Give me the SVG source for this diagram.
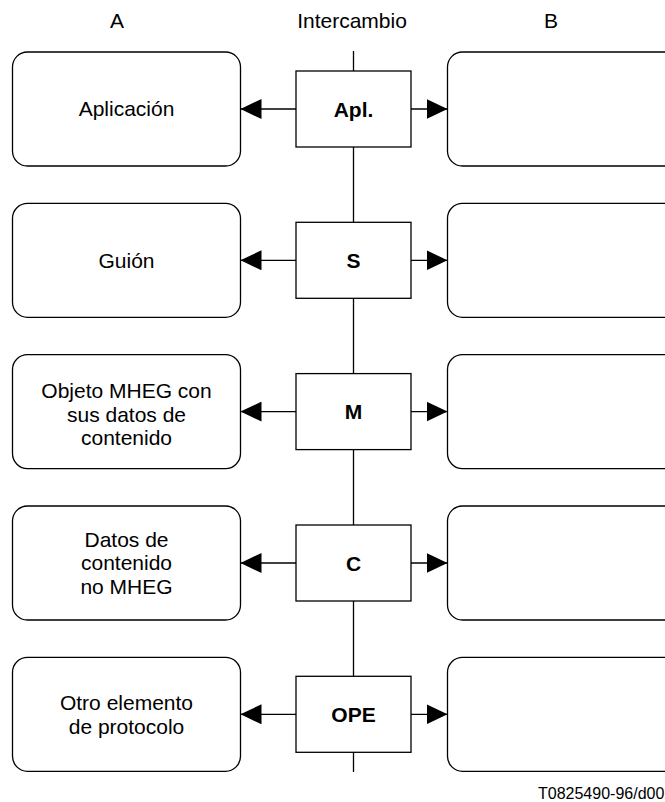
<svg xmlns="http://www.w3.org/2000/svg" width="665" height="802" viewBox="0 0 665 802">
  <style>
    .box { fill: #ffffff; stroke: #000000; stroke-width: 1.3; }
    .wire { fill: none; stroke: #000000; stroke-width: 1.3; }
    .lbl { font-family: "Liberation Sans", Arial, sans-serif; font-size: 21px; fill: #000000; text-anchor: middle; }
    .bold { font-weight: bold; }
    .foot { font-family: "Liberation Sans", Arial, sans-serif; font-size: 16px; fill: #000000; }
  </style>
  <defs>
    <marker id="head" viewBox="0 0 21 20" refX="21" refY="10" markerWidth="21" markerHeight="20" markerUnits="userSpaceOnUse" orient="auto">
      <path d="M0,0 L21,10 L0,20 Z" fill="#000000"/>
    </marker>
  </defs>

  <rect width="665" height="802" fill="#ffffff"/>

  <!-- column headings -->
  <g id="headings">
    <text class="lbl" x="117" y="28">A</text>
    <text class="lbl" x="352" y="28">Intercambio</text>
    <text class="lbl" x="551" y="28">B</text>
  </g>

  <!-- exchange axis and arrows -->
  <g id="connectors">
    <line class="wire" x1="353.5" y1="51" x2="353.5" y2="772"/>
    <line class="wire" x1="296" y1="109" x2="240.5" y2="109" marker-end="url(#head)"/>
    <line class="wire" x1="411" y1="109" x2="447.5" y2="109" marker-end="url(#head)"/>
    <line class="wire" x1="296" y1="260.3" x2="240.5" y2="260.3" marker-end="url(#head)"/>
    <line class="wire" x1="411" y1="260.3" x2="447.5" y2="260.3" marker-end="url(#head)"/>
    <line class="wire" x1="296" y1="411.6" x2="240.5" y2="411.6" marker-end="url(#head)"/>
    <line class="wire" x1="411" y1="411.6" x2="447.5" y2="411.6" marker-end="url(#head)"/>
    <line class="wire" x1="296" y1="563" x2="240.5" y2="563" marker-end="url(#head)"/>
    <line class="wire" x1="411" y1="563" x2="447.5" y2="563" marker-end="url(#head)"/>
    <line class="wire" x1="296" y1="714.3" x2="240.5" y2="714.3" marker-end="url(#head)"/>
    <line class="wire" x1="411" y1="714.3" x2="447.5" y2="714.3" marker-end="url(#head)"/>
  </g>

  <!-- row 1 -->
  <g id="a-aplicacion">
    <rect class="box" x="12.5" y="52" width="228" height="114" rx="15"/>
    <text class="lbl" x="126.5" y="116">Aplicación</text>
  </g>
  <g id="x-apl">
    <rect class="box" x="296" y="71" width="115" height="76"/>
    <text class="lbl bold" x="353.5" y="116.5">Apl.</text>
  </g>
  <g id="b-row1">
    <rect class="box" x="447.5" y="52" width="240" height="114" rx="15"/>
  </g>

  <!-- row 2 -->
  <g id="a-guion">
    <rect class="box" x="12.5" y="203.3" width="228" height="114" rx="15"/>
    <text class="lbl" x="126.5" y="267.5">Guión</text>
  </g>
  <g id="x-s">
    <rect class="box" x="296" y="222.3" width="115" height="76"/>
    <text class="lbl bold" x="353.5" y="267.8">S</text>
  </g>
  <g id="b-row2">
    <rect class="box" x="447.5" y="203.3" width="240" height="114" rx="15"/>
  </g>

  <!-- row 3 -->
  <g id="a-objeto">
    <rect class="box" x="12.5" y="354.6" width="228" height="114" rx="15"/>
    <text class="lbl" x="126.5" y="398">Objeto MHEG con</text>
    <text class="lbl" x="126.5" y="421.5">sus datos de</text>
    <text class="lbl" x="126.5" y="445">contenido</text>
  </g>
  <g id="x-m">
    <rect class="box" x="296" y="373.6" width="115" height="76"/>
    <text class="lbl bold" x="353.5" y="419">M</text>
  </g>
  <g id="b-row3">
    <rect class="box" x="447.5" y="354.6" width="240" height="114" rx="15"/>
  </g>

  <!-- row 4 -->
  <g id="a-datos">
    <rect class="box" x="12.5" y="506" width="228" height="114" rx="15"/>
    <text class="lbl" x="126.5" y="546.5">Datos de</text>
    <text class="lbl" x="126.5" y="570">contenido</text>
    <text class="lbl" x="126.5" y="593.5">no MHEG</text>
  </g>
  <g id="x-c">
    <rect class="box" x="296" y="525" width="115" height="76"/>
    <text class="lbl bold" x="353.5" y="570.5">C</text>
  </g>
  <g id="b-row4">
    <rect class="box" x="447.5" y="506" width="240" height="114" rx="15"/>
  </g>

  <!-- row 5 -->
  <g id="a-otro">
    <rect class="box" x="12.5" y="657.3" width="228" height="114" rx="15"/>
    <text class="lbl" x="126.5" y="710">Otro elemento</text>
    <text class="lbl" x="126.5" y="733.5">de protocolo</text>
  </g>
  <g id="x-ope">
    <rect class="box" x="296" y="676.3" width="115" height="76"/>
    <text class="lbl bold" x="353.5" y="721.7">OPE</text>
  </g>
  <g id="b-row5">
    <rect class="box" x="447.5" y="657.3" width="240" height="114" rx="15"/>
  </g>

  <text class="foot" x="538" y="799">T0825490-96/d002</text>
</svg>
